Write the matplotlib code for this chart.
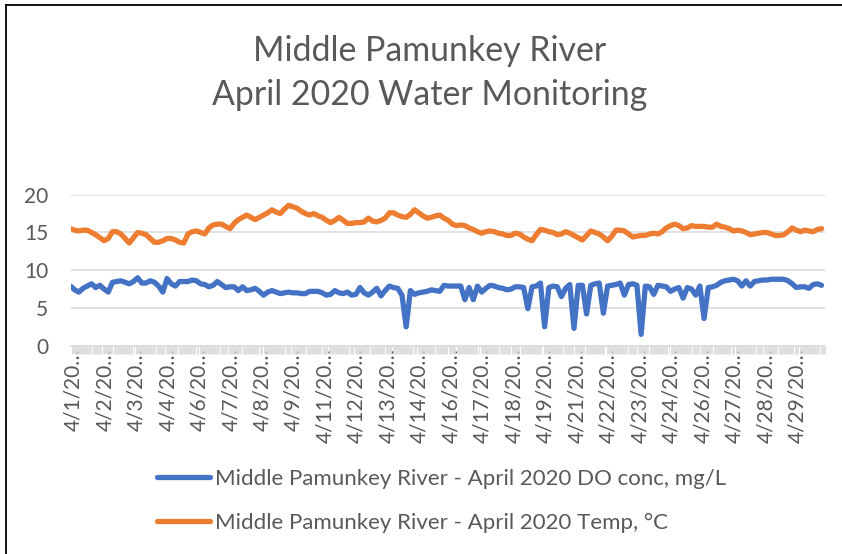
import matplotlib
matplotlib.use("Agg")
import matplotlib.pyplot as plt
import numpy as np
from matplotlib.transforms import ScaledTranslation
from matplotlib.lines import Line2D

plt.rcParams['font.family'] = ['Lato', 'DejaVu Sans']

# ---- data (one value every 4 hours) ----
date_labels = ["4/1/20…", "4/2/20…", "4/3/20…", "4/4/20…", "4/6/20…", "4/7/20…",
               "4/8/20…", "4/9/20…", "4/11/20…", "4/12/20…", "4/13/20…", "4/14/20…",
               "4/16/20…", "4/17/20…", "4/18/20…", "4/19/20…", "4/21/20…", "4/22/20…",
               "4/23/20…", "4/24/20…", "4/26/20…", "4/27/20…", "4/28/20…", "4/29/20…"]

do_conc = [7.9, 7.4, 7.1, 7.6, 7.9, 8.2, 7.7, 8.0, 7.5, 7.1,
           8.4, 8.5, 8.6, 8.4, 8.2, 8.5, 9.0, 8.3, 8.3, 8.6,
           8.4, 7.9, 7.1, 8.9, 8.2, 7.9, 8.5, 8.5, 8.5, 8.7,
           8.6, 8.2, 8.1, 7.8, 8.0, 8.5, 8.1, 7.7, 7.8, 7.8,
           7.3, 7.8, 7.3, 7.4, 7.6, 7.2, 6.7, 7.1, 7.3, 7.1,
           6.9, 7.0, 7.1, 7.0, 7.0, 6.9, 6.9, 7.2, 7.2, 7.2,
           7.0, 6.7, 6.8, 7.3, 7.0, 6.9, 7.1, 6.7, 6.8, 7.7,
           7.0, 6.7, 7.1, 7.6, 6.6, 7.3, 7.9, 7.7, 7.6, 6.7,
           2.5, 7.3, 6.8, 7.0, 7.1, 7.2, 7.4, 7.3, 7.2, 8.0,
           7.9, 7.9, 7.9, 7.9, 6.1, 7.7, 6.1, 7.9, 7.1, 7.6,
           8.0, 7.9, 7.7, 7.6, 7.4, 7.5, 7.8, 7.8, 7.7, 4.9,
           7.8, 7.9, 8.3, 2.5, 7.7, 7.9, 7.8, 6.5, 7.6, 8.1,
           2.3, 8.0, 8.0, 4.2, 8.0, 8.2, 8.3, 4.3, 7.9, 8.0,
           8.1, 8.3, 6.7, 8.1, 8.2, 8.0, 1.5, 7.9, 7.8, 6.8,
           8.0, 7.9, 7.8, 7.2, 7.5, 7.7, 6.3, 7.7, 7.5, 6.7,
           7.9, 3.6, 7.7, 7.8, 8.0, 8.4, 8.6, 8.7, 8.8, 8.6,
           7.9, 8.6, 7.9, 8.5, 8.6, 8.7, 8.7, 8.8, 8.8, 8.8,
           8.8, 8.6, 8.2, 7.7, 7.8, 7.8, 7.6, 8.1, 8.2, 8.0]

temp_c = [15.5, 15.3, 15.2, 15.3, 15.3, 15.0, 14.7, 14.3, 13.9, 14.2,
          15.1, 15.1, 14.8, 14.2, 13.6, 14.3, 15.0, 14.9, 14.7, 14.2,
          13.7, 13.7, 13.9, 14.2, 14.2, 14.0, 13.7, 13.6, 14.8, 15.1,
          15.2, 15.0, 14.8, 15.6, 16.0, 16.1, 16.1, 15.8, 15.5, 16.2,
          16.7, 17.0, 17.3, 17.0, 16.7, 17.0, 17.3, 17.6, 18.0, 17.7,
          17.5, 18.1, 18.6, 18.4, 18.2, 17.8, 17.5, 17.3, 17.5, 17.2,
          17.0, 16.6, 16.3, 16.6, 17.0, 16.6, 16.2, 16.2, 16.3, 16.3,
          16.4, 16.9, 16.5, 16.4, 16.6, 16.9, 17.6, 17.6, 17.3, 17.1,
          17.0, 17.4, 18.0, 17.6, 17.2, 16.9, 17.0, 17.2, 17.3, 16.9,
          16.6, 16.1, 15.9, 16.0, 15.9, 15.6, 15.4, 15.1, 14.9, 15.1,
          15.2, 15.1, 14.9, 14.8, 14.6, 14.6, 14.9, 14.8, 14.4, 14.1,
          13.9, 14.7, 15.4, 15.3, 15.1, 15.0, 14.7, 14.8, 15.1, 14.9,
          14.6, 14.3, 14.0, 14.6, 15.2, 15.0, 14.8, 14.4, 13.9, 14.5,
          15.3, 15.3, 15.2, 14.8, 14.4, 14.5, 14.6, 14.6, 14.8, 14.9,
          14.8, 15.1, 15.6, 15.9, 16.1, 15.9, 15.5, 15.6, 15.9, 15.8,
          15.8, 15.8, 15.7, 15.7, 16.1, 15.8, 15.7, 15.5, 15.2, 15.3,
          15.2, 15.0, 14.7, 14.8, 14.9, 15.0, 15.0, 14.8, 14.6, 14.6,
          14.7, 15.1, 15.6, 15.3, 15.1, 15.3, 15.2, 15.1, 15.4, 15.5]

series_names = ["Middle Pamunkey River - April 2020 DO conc, mg/L",
                "Middle Pamunkey River - April 2020 Temp, °C"]
y_ticks = [0, 5, 10, 15, 20]

n_hours = 720      # hourly categories on the axis
step = 4           # hours between stored values
label_every = 30   # categories between labels

BLUE = "#4472C4"
ORANGE = "#ED7D31"
GRAY_TXT = "#595959"
GRID = "#D9D9D9"

W, H = 842, 554
fig = plt.figure(figsize=(W / 100, H / 100), dpi=100)
ax = fig.add_axes([70.5 / W, (H - 345.7) / H, 754.2 / W, 151.0 / H])

x = np.arange(len(do_conc)) * step
l1, = ax.plot(x, do_conc, color=BLUE, lw=3.8, solid_joinstyle='round',
              solid_capstyle='round', label=series_names[0], zorder=3)
l2, = ax.plot(x, temp_c, color=ORANGE, lw=3.8, solid_joinstyle='round',
              solid_capstyle='round', label=series_names[1], zorder=3)

ax.set_xlim(0, n_hours - 1)
ax.set_ylim(y_ticks[0], y_ticks[-1])
ax.set_yticks(y_ticks)
ax.grid(axis='y', color=GRID, lw=1.1)
ax.set_axisbelow(True)
for s in ['top', 'right', 'left']:
    ax.spines[s].set_visible(False)
ax.spines['bottom'].set_color(GRID)
ax.spines['bottom'].set_linewidth(1.1)

ax.set_xticks(np.arange(0, n_hours, label_every))
ax.set_xticklabels(date_labels, rotation=90)
ax.set_xticks(np.arange(n_hours), minor=True)
ax.tick_params(axis='x', which='major', length=0, pad=1.5, labelsize=15,
               labelcolor=GRAY_TXT)
ax.tick_params(axis='x', which='minor', length=6, width=0.6, color=GRID)
ax.tick_params(axis='y', length=0, pad=16, labelsize=15, labelcolor=GRAY_TXT)

off = ScaledTranslation(3 / 100, 0, fig.dpi_scale_trans)
for lbl in ax.get_xticklabels():
    lbl.set_transform(lbl.get_transform() + off)

fig.text(430 / W, 1 - 73 / H, "Middle Pamunkey River\nApril 2020 Water Monitoring",
         ha='center', va='center', fontsize=24.4, color=GRAY_TXT, linespacing=1.45)

fig.legend(handles=[l1, l2], loc='upper left', bbox_to_anchor=(157 / W, 1 - 469 / H),
           frameon=False, fontsize=16, handlelength=2.4, handletextpad=0.2,
           labelspacing=1.07, borderpad=0, borderaxespad=0, labelcolor=GRAY_TXT)

# chart frame (top and left edges visible)
fig.add_artist(Line2D([6 / W, 6 / W], [0, 1 - 5 / H], transform=fig.transFigure,
                      color='black', lw=1.3))
fig.add_artist(Line2D([6 / W, 1], [1 - 5 / H, 1 - 5 / H], transform=fig.transFigure,
                      color='black', lw=1.3))

fig.savefig("out.png", dpi=100)
